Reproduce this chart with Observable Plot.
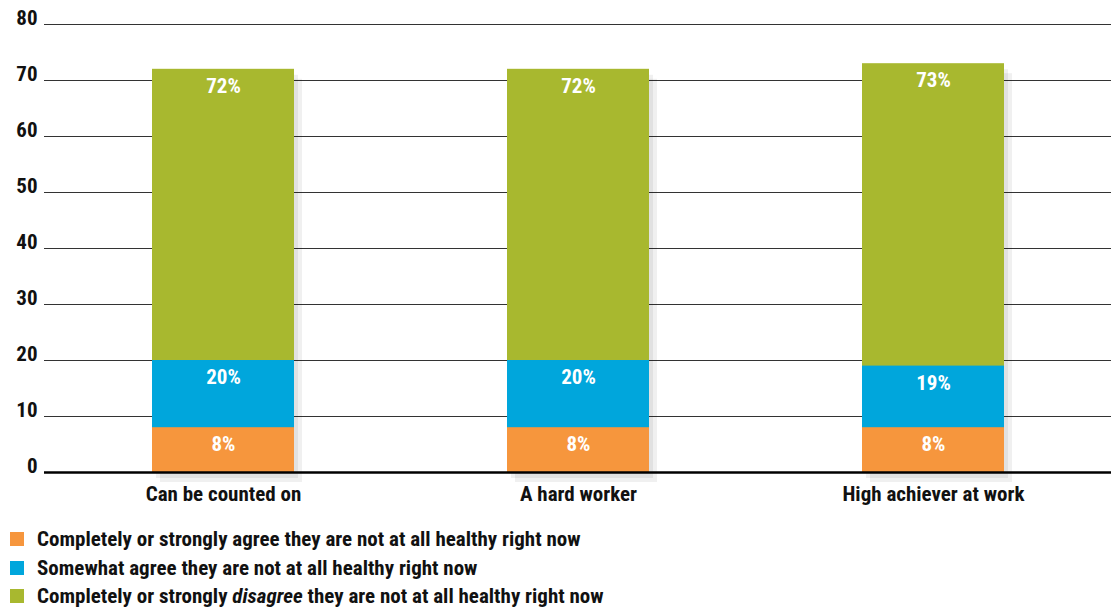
<!DOCTYPE html>
<html>
<head>
<meta charset="utf-8">
<script src="https://cdn.jsdelivr.net/npm/d3@7"></script>
<script src="https://cdn.jsdelivr.net/npm/@observablehq/plot@0.6"></script>
<style>
  html, body { margin: 0; padding: 0; background: #fff; }
  body { width: 1111px; height: 608px; overflow: hidden; font-family: "Liberation Sans Narrow", "Roboto Condensed", "Arial Narrow", Roboto, sans-serif; font-weight: bold; }
  #chart svg { display: block; }
  .legend { position: absolute; left: 10px; top: 525px; }
  .legend .item { display: flex; align-items: center; height: 28.5px; font-size: 21px; color: #111; }
  .legend .sw { width: 14px; height: 14px; margin-right: 13px; flex: none; }
</style>
</head>
<body>
<div id="chart"></div>
<div class="legend" id="legend"></div>
<script>
const categories = ["Can be counted on", "A hard worker", "High achiever at work"];
const seriesNames = [
  "Completely or strongly agree they are not at all healthy right now",
  "Somewhat agree they are not at all healthy right now",
  "Completely or strongly <i>disagree</i> they are not at all healthy right now"
];
const agreeStrong = [8, 8, 8];
const agreeSomewhat = [20, 20, 19];
const disagreeStrong = [72, 72, 73];
const yTicks = [0, 10, 20, 30, 40, 50, 60, 70, 80];
const colors = ["#F6963D", "#00A6DC", "#A8B82F"];

const seriesValues = [disagreeStrong, agreeSomewhat, agreeStrong];
const seriesColors = [colors[2], colors[1], colors[0]];

const rowsFor = (vals) => categories.map((c, i) => ({cat: c, v: vals[i], label: vals[i] + "%"}));
const allRows = seriesValues.flatMap(rowsFor);

const fontFam = '"Liberation Sans Narrow", "Roboto Condensed", "Arial Narrow", Roboto, sans-serif';

const marks = [
  Plot.ruleY(yTicks.filter(d => d > 0), {stroke: "#333", strokeWidth: 1.2}),
  // soft shadow to the right of each bar
  Plot.barY(rowsFor(disagreeStrong), {x: "cat", y: "v", fill: "#000", fillOpacity: 0.06, dx: 4, dy: 6}),
  Plot.barY(rowsFor(disagreeStrong), {x: "cat", y: "v", fill: "#000", fillOpacity: 0.06, dx: 8, dy: 10}),
];
seriesValues.forEach((vals, k) => {
  marks.push(Plot.barY(rowsFor(vals), {x: "cat", y: "v", fill: seriesColors[k]}));
});
marks.push(Plot.text(allRows, {x: "cat", y: "v", text: "label", dy: 17, fill: "#fff", fontSize: 21, fontWeight: "bold"}));
marks.push(Plot.ruleY([0], {stroke: "#000", strokeWidth: 2.5}));
marks.push(Plot.axisY({ticks: yTicks, tickSize: 0, tickPadding: 7, dy: -6, fontSize: 21, fontWeight: "bold", fill: "#111", label: null}));
marks.push(Plot.axisX({tickSize: 0, tickPadding: 14, fontSize: 21, fontWeight: "bold", fill: "#111", label: null}));

const chart = Plot.plot({
  width: 1111,
  height: 510,
  marginLeft: 44,
  marginRight: 0,
  marginTop: 24,
  marginBottom: 38,
  style: {fontFamily: fontFam, background: "#fff", overflow: "visible"},
  x: {domain: categories, paddingInner: 0.6, paddingOuter: 0.3},
  y: {domain: [0, 80]},
  marks
});
document.getElementById("chart").appendChild(chart);

const legend = document.getElementById("legend");
seriesNames.forEach((name, i) => {
  const item = document.createElement("div");
  item.className = "item";
  item.innerHTML = `<span class="sw" style="background:${colors[i]}"></span><span>${name}</span>`;
  legend.appendChild(item);
});
</script>
</body>
</html>
